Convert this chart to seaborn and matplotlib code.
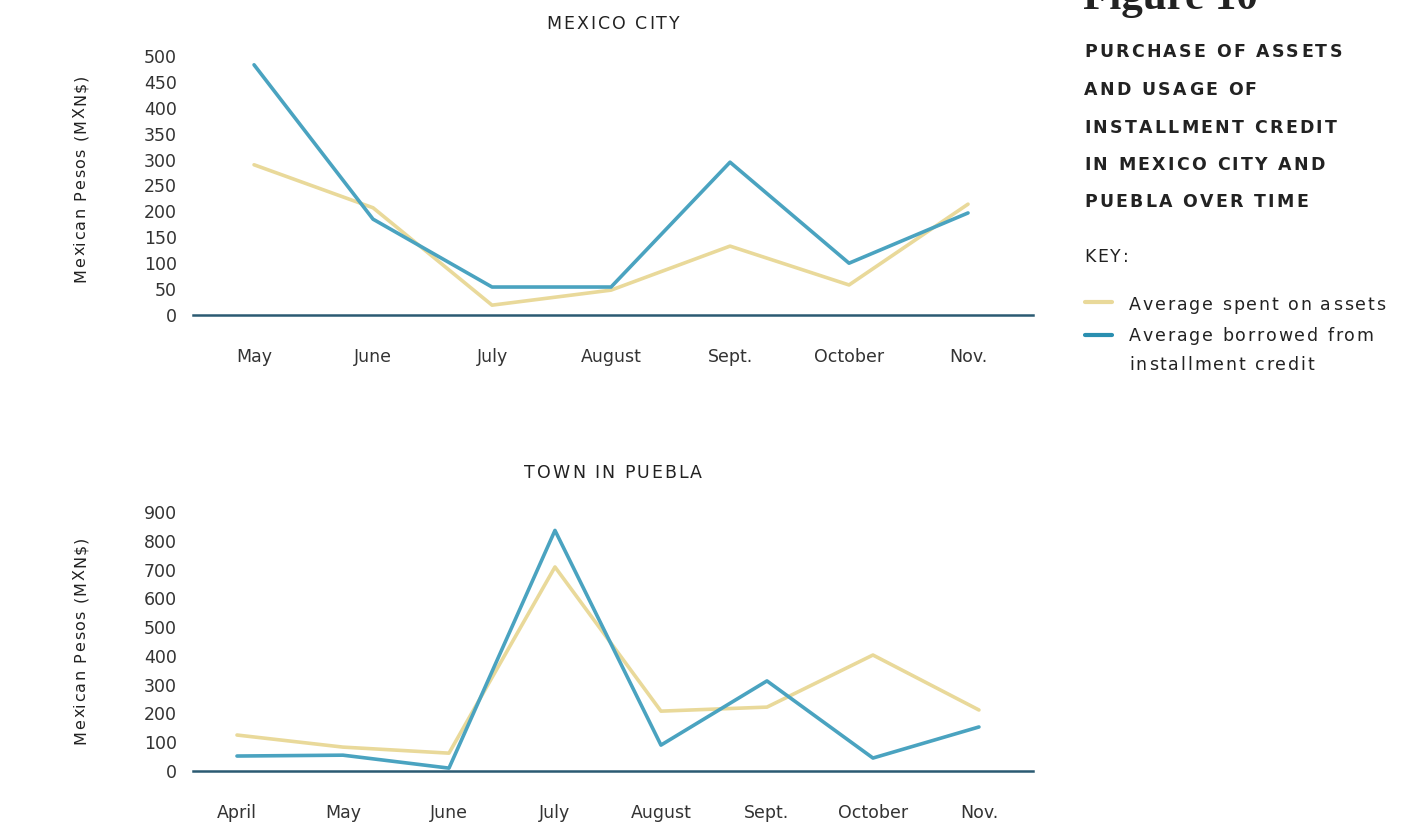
import matplotlib
matplotlib.use("Agg")
import matplotlib.pyplot as plt
import seaborn as sns
import pandas as pd
from matplotlib.lines import Line2D
from matplotlib.font_manager import FontProperties, findfont
from matplotlib.ft2font import FT2Font

# ---- data ----
cdmx_months = ["May", "June", "July", "August", "Sept.", "October", "Nov."]
cdmx_assets = [290, 207, 19, 48, 133, 58, 214]
cdmx_credit = [483, 185, 54, 54, 295, 100, 197]

puebla_months = ["April", "May", "June", "July", "August", "Sept.", "October", "Nov."]
puebla_assets = [125, 83, 62, 709, 208, 222, 403, 212]
puebla_credit = [52, 55, 10, 836, 90, 313, 45, 153]

series_names = ["Average spent on assets", "Average borrowed from installment credit"]
panel_titles = ["MEXICO CITY", "TOWN IN PUEBLA"]
y_label = "Mexican Pesos (MXN$)"
header_lines = ["PURCHASE OF ASSETS", "AND USAGE OF", "INSTALLMENT CREDIT",
                "IN MEXICO CITY AND", "PUEBLA OVER TIME"]
legend_lines = ["Average spent on assets", "Average borrowed from", "installment credit"]

sns.set_theme(style="white")
FAMILY = "DejaVu Sans"
plt.rcParams["font.family"] = [FAMILY]

YELLOW = "#e9d99a"
BLUE = "#4aa3c0"
AXIS = "#2b5a72"
TEXT = "#222222"
TICK = "#333333"

fig = plt.figure(figsize=(14.17, 8.25), dpi=100)
W, H = 1417, 825


def rect(x0, x1, ytop, ybot):
    return [x0 / W, 1 - ybot / H, (x1 - x0) / W, (ybot - ytop) / H]


def advances(s, size, weight):
    fp = FontProperties(family=FAMILY, weight=weight, size=size)
    f = FT2Font(findfont(fp))
    f.set_size(size, 100)
    return [f.load_char(ord(c)).linearHoriAdvance / 65536 for c in s]


def tracked(x, y, s, size, track, weight="normal", ha="left", rotation=0, color=TEXT):
    """Letter-spaced text; (x, y) in pixels from top-left; y is the baseline
    (for rotation=90, x is the baseline and y the text centre/start)."""
    adv = advances(s, size, weight)
    total = sum(adv) + track * (len(s) - 1)
    start = -total / 2 if ha == "center" else 0.0
    pos = start
    for c, a in zip(s, adv):
        if rotation == 0:
            fx, fy = (x + pos) / W, 1 - y / H
        else:
            fx, fy = x / W, 1 - (y - pos) / H
        if c != " ":
            fig.text(fx, fy, c, fontsize=size, fontweight=weight, color=color,
                     rotation=rotation, rotation_mode="anchor",
                     ha="left", va="baseline")
        pos += a + track


ax1 = fig.add_axes(rect(193, 1033, 56, 315))
ax2 = fig.add_axes(rect(193, 1033, 512, 771))


def build(months, assets, credit):
    n = len(months)
    return pd.DataFrame({
        "pos": list(range(n)) * 2,
        "value": assets + credit,
        "series": [series_names[0]] * n + [series_names[1]] * n,
    })


panels = [
    (ax1, cdmx_months, cdmx_assets, cdmx_credit, 500, 50, (-0.513, 6.546), 29, 178),
    (ax2, puebla_months, puebla_assets, puebla_credit, 900, 100, (-0.415, 7.51), 478, 640),
]

for (ax, months, assets, credit, ymax, step, xl, title_y, ylab_y), title in zip(panels, panel_titles):
    df = build(months, assets, credit)
    sns.lineplot(data=df, x="pos", y="value", hue="series",
                 palette={series_names[0]: YELLOW, series_names[1]: BLUE},
                 linewidth=2.6, ax=ax, legend=False, sort=False, clip_on=False)
    ax.set_xlim(*xl)
    ax.set_ylim(0, ymax)
    ax.set_yticks(range(0, ymax + 1, step))
    ax.set_xticks(range(len(months)))
    ax.set_xticklabels(months)
    ax.set_xlabel("")
    ax.set_ylabel("")
    ax.tick_params(axis="both", length=0, labelsize=12.5, colors=TICK)
    ax.tick_params(axis="x", pad=24)
    ax.tick_params(axis="y", pad=11.5)
    for s in ["left", "right", "top"]:
        ax.spines[s].set_visible(False)
    ax.spines["bottom"].set_color(AXIS)
    ax.spines["bottom"].set_linewidth(1.8)
    ax.set_facecolor("none")
    tracked(613, title_y, title, 12.5, 2.0, ha="center", color=TEXT)
    tracked(85, ylab_y, y_label, 11.5, 1.35, ha="center", rotation=90, color=TEXT)

# ---- right-hand header ----
fig.text(1083 / W, 1 - 9 / H, "Figure 10", fontsize=31, fontweight="bold",
         family=["Liberation Serif", "DejaVu Serif"], color=TEXT, va="baseline", ha="left")

for line, y in zip(header_lines, [57, 95, 133, 169.5, 207]):
    tracked(1084, y, line, 12.5, 2.3, weight="bold")

tracked(1084, 262, "KEY:", 12.5, 2.0)

for color, y in [(YELLOW, 302), ("#2a8fb0", 335)]:
    fig.add_artist(Line2D([1085 / W, 1112 / W], [1 - y / H, 1 - y / H],
                          color=color, linewidth=3, transform=fig.transFigure))
for line, y in zip(legend_lines, [310, 341, 370]):
    tracked(1129, y, line, 12.5, 1.9)

fig.savefig("out.png", dpi=100)
